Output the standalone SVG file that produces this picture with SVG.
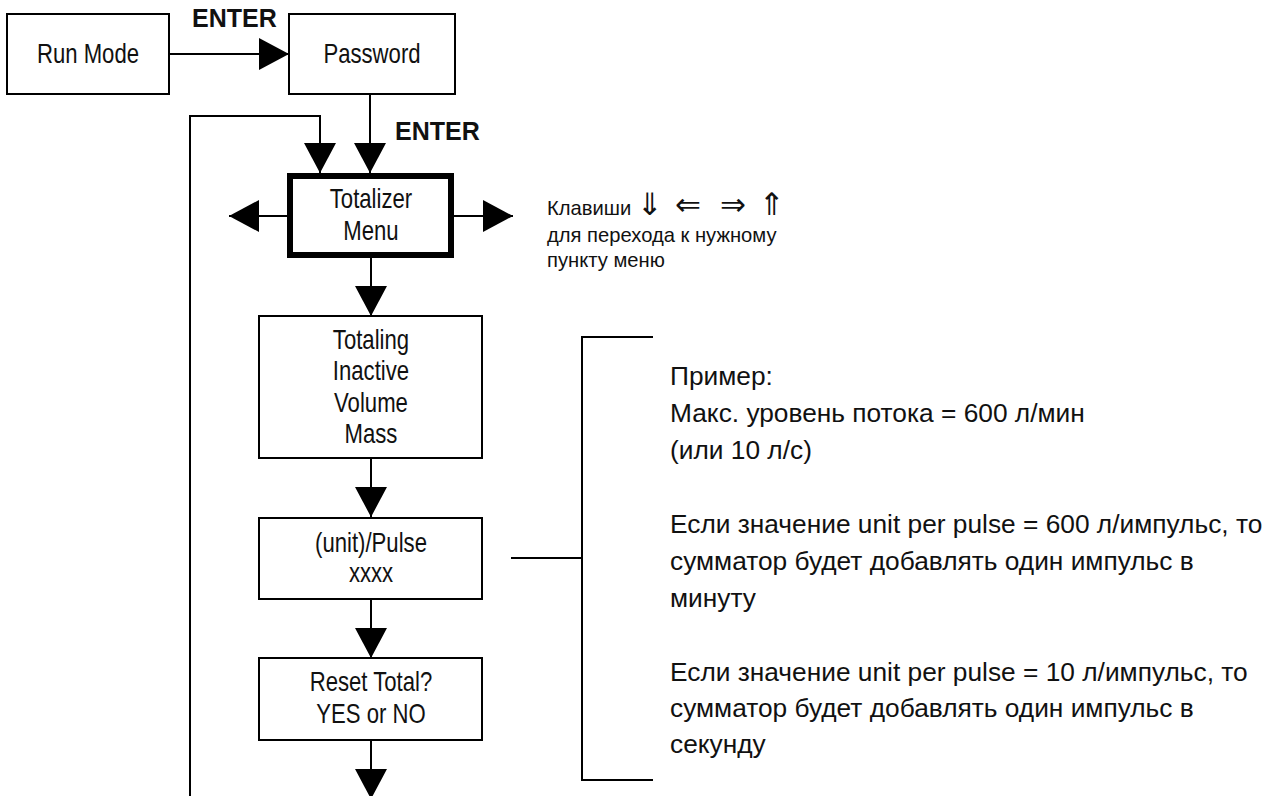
<svg xmlns="http://www.w3.org/2000/svg" width="1266" height="796" viewBox="0 0 1266 796">
<style>
.box{fill:#fff;stroke:#000;stroke-width:2}
.thick{fill:#fff;stroke:#000;stroke-width:6}
.t{font-family:"Liberation Sans",Arial,sans-serif;font-size:27px;fill:#111;text-anchor:middle;transform-box:fill-box;transform-origin:center;transform:scaleX(0.82)}
.b{font-family:"Liberation Sans",Arial,sans-serif;font-size:25px;font-weight:bold;fill:#111}
.n{font-family:"Liberation Sans",Arial,sans-serif;font-size:26.3px;fill:#111}
.s{font-family:"Liberation Sans",Arial,sans-serif;font-size:20.2px;fill:#111}
.sym{font-family:"DejaVu Sans",sans-serif;font-size:31px;fill:#111}
.c{fill:none;stroke:#000;stroke-width:2}
</style>
<defs>
<marker id="ah" viewBox="0 0 30 32" refX="30" refY="16" markerWidth="30" markerHeight="32" markerUnits="userSpaceOnUse" orient="auto">
<path d="M0,0 L30,16 L0,32 z" fill="#000"/>
</marker>
</defs>
<rect width="1266" height="796" fill="#fff"/>
<g id="connectors">
<path class="c" d="M169,54 H289" marker-end="url(#ah)"/>
<path class="c" d="M370,94 V173" marker-end="url(#ah)"/>
<path class="c" d="M190,796 V116 H320 V173" marker-end="url(#ah)"/>
<path class="c" d="M287,216 H229" marker-end="url(#ah)"/>
<path class="c" d="M454,216 H513" marker-end="url(#ah)"/>
<path class="c" d="M371,258 V316" marker-end="url(#ah)"/>
<path class="c" d="M371,458 V517" marker-end="url(#ah)"/>
<path class="c" d="M371,599 V658" marker-end="url(#ah)"/>
<path class="c" d="M371,740 V799" marker-end="url(#ah)"/>
<path class="c" d="M511,558 H582"/>
<path class="c" d="M653,337 H582 V780 H653"/>
</g>
<g id="label-enter-1"><text class="b" x="192" y="27">ENTER</text></g>
<g id="label-enter-2"><text class="b" x="395" y="140">ENTER</text></g>
<g id="run-mode">
<rect class="box" x="7" y="14" width="162" height="80"/>
<text class="t" x="88" y="63">Run Mode</text>
</g>
<g id="password">
<rect class="box" x="289" y="14" width="166" height="80"/>
<text class="t" x="372" y="63">Password</text>
</g>
<g id="totalizer-menu">
<rect class="thick" x="290" y="176" width="161" height="79"/>
<text class="t" x="371" y="208">Totalizer</text>
<text class="t" x="371" y="240">Menu</text>
</g>
<g id="totaling">
<rect class="box" x="259" y="316" width="223" height="142"/>
<text class="t" x="371" y="349">Totaling</text>
<text class="t" x="371" y="380">Inactive</text>
<text class="t" x="371" y="412">Volume</text>
<text class="t" x="371" y="443">Mass</text>
</g>
<g id="unit-pulse">
<rect class="box" x="259" y="518" width="223" height="81"/>
<text class="t" x="371" y="552">(unit)/Pulse</text>
<text class="t" x="371" y="582">xxxx</text>
</g>
<g id="reset-total">
<rect class="box" x="259" y="658" width="223" height="82"/>
<text class="t" x="371" y="691">Reset Total?</text>
<text class="t" x="371" y="723">YES or NO</text>
</g>
<g id="keys-note">
<text class="s" x="547" y="215">Клавиши</text>
<text class="sym" x="637" y="215">⇓</text>
<text class="sym" x="675" y="215">⇐</text>
<text class="sym" x="720" y="215">⇒</text>
<text class="sym" x="759" y="215">⇑</text>
<text class="s" x="547" y="242">для перехода к нужному</text>
<text class="s" x="547" y="267">пункту меню</text>
</g>
<g id="example-note">
<text class="n" x="670" y="385">Пример:</text>
<text class="n" x="670" y="422">Макс. уровень потока = 600 л/мин</text>
<text class="n" x="670" y="459">(или 10 л/с)</text>
<text class="n" x="670" y="533">Если значение unit per pulse = 600 л/импульс, то</text>
<text class="n" x="670" y="570">сумматор будет добавлять один импульс в</text>
<text class="n" x="670" y="607">минуту</text>
<text class="n" x="670" y="681">Если значение unit per pulse = 10 л/импульс, то</text>
<text class="n" x="670" y="717">сумматор будет добавлять один импульс в</text>
<text class="n" x="670" y="753">секунду</text>
</g>
</svg>
